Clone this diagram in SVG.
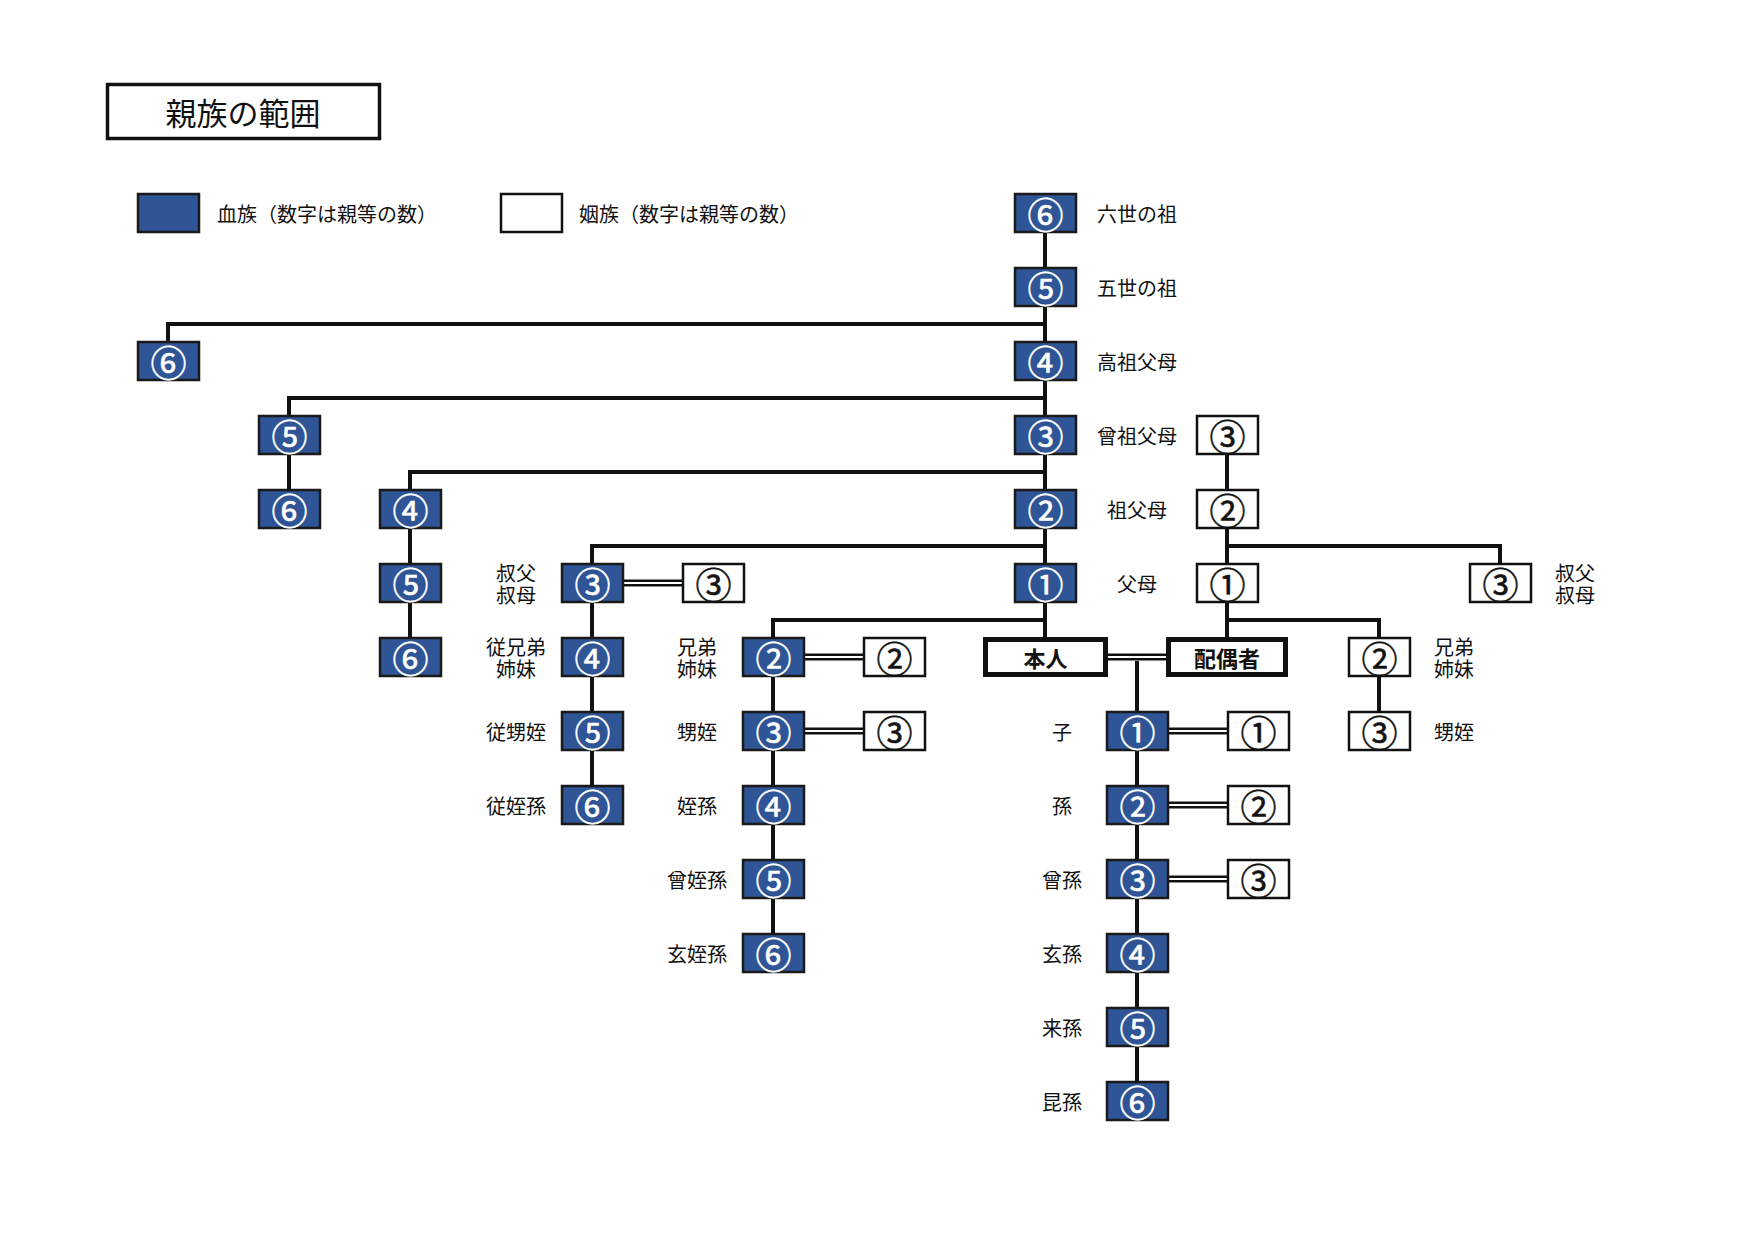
<svg xmlns="http://www.w3.org/2000/svg" width="1755" height="1241" viewBox="0 0 1755 1241">
<defs>
<style>
text{font-family:"Noto Sans CJK JP","Noto Sans",sans-serif;fill:#111}
.blood rect{fill:#2f5597;stroke:#1a1a1a;stroke-width:2.5}
.blood text{fill:#fff;stroke:#fff;stroke-width:0.6;font-size:36px;text-anchor:middle;dominant-baseline:central}
.aff rect{fill:#fff;stroke:#111;stroke-width:2.5}
.aff text{stroke:#111;stroke-width:0.6;font-size:36px;text-anchor:middle;dominant-baseline:central}
.self rect{fill:#fff;stroke:#111;stroke-width:5}
.self text{font-size:22px;font-weight:bold;text-anchor:middle;dominant-baseline:central}
.lbl{font-size:20px;text-anchor:middle;dominant-baseline:central}
.line{fill:none;stroke:#111;stroke-width:4}
.dbl{stroke:#111;stroke-width:7}
.dbl2{stroke:#fff;stroke-width:2.2}
</style>
</defs>
<rect width="1755" height="1241" fill="#fff"/>

<g id="title">
<rect x="107.5" y="84.5" width="272" height="54" fill="#fff" stroke="#111" stroke-width="3.5"/>
<text x="243" y="111" font-size="31" text-anchor="middle" dominant-baseline="central">親族の範囲</text>
</g>
<g id="legend">
<g class="blood"><rect x="138" y="194" width="61" height="38"/></g>
<text x="217" y="213" font-size="20" dominant-baseline="central">血族（数字は親等の数）</text>
<g class="aff"><rect x="501" y="194" width="61" height="38"/></g>
<text x="579" y="213" font-size="20" dominant-baseline="central">姻族（数字は親等の数）</text>
</g>

<g id="connectors">
<path class="line" d="M1045 213V657"/>
<path class="line" d="M168 361V324H1045"/>
<path class="line" d="M289 509V398H1045"/>
<path class="line" d="M410 657V472H1045"/>
<path class="line" d="M592 805V546H1045"/>
<path class="line" d="M773 953V620H1045"/>
<path class="line" d="M1137 661V1101"/>
<path class="line" d="M1227 435V657"/>
<path class="line" d="M1227 546H1500V583"/>
<path class="line" d="M1227 620H1379V731"/>
<g id="marriages">
<path class="dbl" d="M620 583H684M801 657H865M801 731H865M1106 657H1168M1166 731H1229M1166 805H1229M1166 879H1229"/>
<path class="dbl2" d="M620 583H684M801 657H865M801 731H865M1106 657H1168M1166 731H1229M1166 805H1229M1166 879H1229"/>
</g>
</g>

<g id="n-f0" class="blood"><rect x="1015" y="194" width="61" height="38"/><text x="1045.5" y="213">⑥</text></g>
<g id="n-f1" class="blood"><rect x="1015" y="268" width="61" height="38"/><text x="1045.5" y="287">⑤</text></g>
<g id="n-f2" class="blood"><rect x="1015" y="342" width="61" height="38"/><text x="1045.5" y="361">④</text></g>
<g id="n-f3" class="blood"><rect x="1015" y="416" width="61" height="38"/><text x="1045.5" y="435">③</text></g>
<g id="n-f4" class="blood"><rect x="1015" y="490" width="61" height="38"/><text x="1045.5" y="509">②</text></g>
<g id="n-f5" class="blood"><rect x="1015" y="564" width="61" height="38"/><text x="1045.5" y="583">①</text></g>

<g id="n-a2" class="blood"><rect x="138" y="342" width="61" height="38"/><text x="168.5" y="361">⑥</text></g>
<g id="n-b3" class="blood"><rect x="259" y="416" width="61" height="38"/><text x="289.5" y="435">⑤</text></g>
<g id="n-b4" class="blood"><rect x="259" y="490" width="61" height="38"/><text x="289.5" y="509">⑥</text></g>
<g id="n-c4" class="blood"><rect x="380" y="490" width="61" height="38"/><text x="410.5" y="509">④</text></g>
<g id="n-c5" class="blood"><rect x="380" y="564" width="61" height="38"/><text x="410.5" y="583">⑤</text></g>
<g id="n-c6" class="blood"><rect x="380" y="638" width="61" height="38"/><text x="410.5" y="657">⑥</text></g>

<g id="n-d5" class="blood"><rect x="562" y="564" width="61" height="38"/><text x="592.5" y="583">③</text></g>
<g id="n-d6" class="blood"><rect x="562" y="638" width="61" height="38"/><text x="592.5" y="657">④</text></g>
<g id="n-d7" class="blood"><rect x="562" y="712" width="61" height="38"/><text x="592.5" y="731">⑤</text></g>
<g id="n-d8" class="blood"><rect x="562" y="786" width="61" height="38"/><text x="592.5" y="805">⑥</text></g>
<g id="n-d5s" class="aff"><rect x="683" y="564" width="61" height="38"/><text x="713.5" y="583">③</text></g>

<g id="n-e6" class="blood"><rect x="743" y="638" width="61" height="38"/><text x="773.5" y="657">②</text></g>
<g id="n-e7" class="blood"><rect x="743" y="712" width="61" height="38"/><text x="773.5" y="731">③</text></g>
<g id="n-e8" class="blood"><rect x="743" y="786" width="61" height="38"/><text x="773.5" y="805">④</text></g>
<g id="n-e9" class="blood"><rect x="743" y="860" width="61" height="38"/><text x="773.5" y="879">⑤</text></g>
<g id="n-e10" class="blood"><rect x="743" y="934" width="61" height="38"/><text x="773.5" y="953">⑥</text></g>
<g id="n-e6s" class="aff"><rect x="864" y="638" width="61" height="38"/><text x="894.5" y="657">②</text></g>
<g id="n-e7s" class="aff"><rect x="864" y="712" width="61" height="38"/><text x="894.5" y="731">③</text></g>

<g id="n-self" class="self"><rect x="985.5" y="639.5" width="120" height="35"/><text x="1045.5" y="657">本人</text></g>
<g id="n-spouse" class="self"><rect x="1168.5" y="639.5" width="117" height="35"/><text x="1227" y="657">配偶者</text></g>

<g id="n-g7" class="blood"><rect x="1107" y="712" width="61" height="38"/><text x="1137.5" y="731">①</text></g>
<g id="n-g8" class="blood"><rect x="1107" y="786" width="61" height="38"/><text x="1137.5" y="805">②</text></g>
<g id="n-g9" class="blood"><rect x="1107" y="860" width="61" height="38"/><text x="1137.5" y="879">③</text></g>
<g id="n-g10" class="blood"><rect x="1107" y="934" width="61" height="38"/><text x="1137.5" y="953">④</text></g>
<g id="n-g11" class="blood"><rect x="1107" y="1008" width="61" height="38"/><text x="1137.5" y="1027">⑤</text></g>
<g id="n-g12" class="blood"><rect x="1107" y="1082" width="61" height="38"/><text x="1137.5" y="1101">⑥</text></g>
<g id="n-g7s" class="aff"><rect x="1228" y="712" width="61" height="38"/><text x="1258.5" y="731">①</text></g>
<g id="n-g8s" class="aff"><rect x="1228" y="786" width="61" height="38"/><text x="1258.5" y="805">②</text></g>
<g id="n-g9s" class="aff"><rect x="1228" y="860" width="61" height="38"/><text x="1258.5" y="879">③</text></g>

<g id="n-h3" class="aff"><rect x="1197" y="416" width="61" height="38"/><text x="1227.5" y="435">③</text></g>
<g id="n-h4" class="aff"><rect x="1197" y="490" width="61" height="38"/><text x="1227.5" y="509">②</text></g>
<g id="n-h5" class="aff"><rect x="1197" y="564" width="61" height="38"/><text x="1227.5" y="583">①</text></g>
<g id="n-j5" class="aff"><rect x="1470" y="564" width="61" height="38"/><text x="1500.5" y="583">③</text></g>
<g id="n-i6" class="aff"><rect x="1349" y="638" width="61" height="38"/><text x="1379.5" y="657">②</text></g>
<g id="n-i7" class="aff"><rect x="1349" y="712" width="61" height="38"/><text x="1379.5" y="731">③</text></g>

<g id="labels">
<text class="lbl" x="1137" y="213">六世の祖</text>
<text class="lbl" x="1137" y="287">五世の祖</text>
<text class="lbl" x="1137" y="361">高祖父母</text>
<text class="lbl" x="1137" y="435">曾祖父母</text>
<text class="lbl" x="1137" y="509">祖父母</text>
<text class="lbl" x="1137" y="583">父母</text>
<text class="lbl" x="516" y="572">叔父<tspan x="516" dy="22">叔母</tspan></text>
<text class="lbl" x="516" y="646">従兄弟<tspan x="516" dy="22">姉妹</tspan></text>
<text class="lbl" x="516" y="731">従甥姪</text>
<text class="lbl" x="516" y="805">従姪孫</text>
<text class="lbl" x="697" y="646">兄弟<tspan x="697" dy="22">姉妹</tspan></text>
<text class="lbl" x="697" y="731">甥姪</text>
<text class="lbl" x="697" y="805">姪孫</text>
<text class="lbl" x="697" y="879">曾姪孫</text>
<text class="lbl" x="697" y="953">玄姪孫</text>
<text class="lbl" x="1062" y="731">子</text>
<text class="lbl" x="1062" y="805">孫</text>
<text class="lbl" x="1062" y="879">曾孫</text>
<text class="lbl" x="1062" y="953">玄孫</text>
<text class="lbl" x="1062" y="1027">来孫</text>
<text class="lbl" x="1062" y="1101">昆孫</text>
<text class="lbl" x="1575" y="572">叔父<tspan x="1575" dy="22">叔母</tspan></text>
<text class="lbl" x="1454" y="646">兄弟<tspan x="1454" dy="22">姉妹</tspan></text>
<text class="lbl" x="1454" y="731">甥姪</text>
</g>
</svg>
